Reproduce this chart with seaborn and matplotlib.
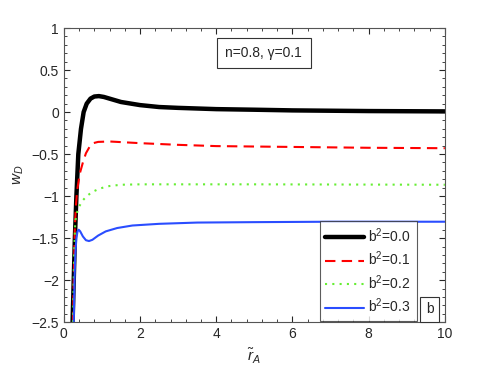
import numpy as np
import pandas as pd
import matplotlib
matplotlib.use('Agg')
import matplotlib.pyplot as plt
import seaborn as sns
from matplotlib.ticker import MultipleLocator

# curves
x_b0 = [0.23, 0.26, 0.29, 0.33, 0.38, 0.45, 0.52, 0.6, 0.7, 0.8, 0.92, 1.05, 1.2, 1.5, 2, 2.5, 3, 4, 5, 6, 8, 10]
y_b0 = [-2.5, -2.0, -1.5, -1.0, -0.5, -0.2, 0.0, 0.1, 0.16, 0.185, 0.19, 0.18, 0.16, 0.12, 0.083, 0.06, 0.05, 0.035, 0.028, 0.02, 0.012, 0.008]

x_b1 = [0.24, 0.26, 0.29, 0.32, 0.35, 0.42, 0.5, 0.58, 0.68, 0.77, 0.9, 1.2, 1.6, 2, 3, 4, 5, 6, 8, 10]
y_b1 = [-2.5, -2.0, -1.35, -1.1, -0.93, -0.73, -0.6, -0.49, -0.41, -0.37, -0.355, -0.35, -0.36, -0.37, -0.39, -0.405, -0.41, -0.415, -0.425, -0.43]

x_b2 = [0.24, 0.27, 0.3, 0.35, 0.42, 0.5, 0.6, 0.75, 0.94, 1.2, 1.5, 2, 3, 5, 10]
y_b2 = [-2.5, -1.7, -1.3, -1.19, -1.11, -1.05, -1.0, -0.95, -0.91, -0.88, -0.865, -0.86, -0.86, -0.86, -0.865]

x_b3 = [0.26, 0.28, 0.3, 0.33, 0.36, 0.39, 0.43, 0.5, 0.58, 0.66, 0.75, 0.9, 1.1, 1.4, 1.8, 2.5, 3.5, 5, 7, 10]
y_b3 = [-2.5, -2.0, -1.7, -1.5, -1.42, -1.40, -1.42, -1.48, -1.525, -1.535, -1.52, -1.47, -1.42, -1.38, -1.35, -1.33, -1.315, -1.31, -1.305, -1.305]

labels = ['b$^2$=0.0', 'b$^2$=0.1', 'b$^2$=0.2', 'b$^2$=0.3']

sns.set_style('ticks')
plt.rcParams['font.family'] = ['Liberation Sans', 'DejaVu Sans']
plt.rcParams['mathtext.fontset'] = 'custom'
plt.rcParams['mathtext.it'] = 'Liberation Sans:italic'
plt.rcParams['mathtext.rm'] = 'Liberation Sans'

fig, ax = plt.subplots(figsize=(4.91, 3.69), dpi=100)
fig.subplots_adjust(left=0.13, right=0.906, top=0.924, bottom=0.127)

series = [(x_b0, y_b0, 'black', '-', 3.2),
          (x_b1, y_b1, 'red', (0, (5, 3)), 1.5),
          (x_b2, y_b2, '#66ee33', (0, (1, 2.5)), 1.5),
          (x_b3, y_b3, '#2a4dff', '-', 1.5)]

for (xs, ys, c, ls, lw), lab in zip(series, labels):
    df = pd.DataFrame({'r': xs, 'w': ys})
    sns.lineplot(data=df, x='r', y='w', ax=ax, color=c, linestyle=ls, lw=lw,
                 label=lab, sort=False, estimator=None)

ax.set_xlim(0, 10)
ax.set_ylim(-2.5, 1)
ax.xaxis.set_major_locator(MultipleLocator(2))
ax.xaxis.set_minor_locator(MultipleLocator(0.4))
ax.yaxis.set_major_locator(MultipleLocator(0.5))
ax.yaxis.set_minor_locator(MultipleLocator(0.1))
ax.tick_params(which='both', direction='in', top=True, right=True, labelsize=10)
ax.tick_params(which='major', length=4)
ax.tick_params(which='minor', length=2)
ax.set_yticklabels([f'{v:g}'.replace('-', '\u2212') for v in ax.get_yticks()])
for s in ax.spines.values():
    s.set_color('#555555')
    s.set_linewidth(0.8)

ax.set_xlabel(r'$\tilde{r}_A$', fontsize=11)
ax.set_ylabel(r'$w_D$', fontsize=11)

ax.text(0.525, 0.915, 'n=0.8, \u03b3=0.1', transform=ax.transAxes, ha='center', va='center',
        fontsize=10, bbox=dict(boxstyle='square,pad=0.6', fc='white', ec='#333333', lw=0.8))
ax.text(0.96, 0.044, 'b', transform=ax.transAxes, ha='center', va='center',
        fontsize=10, bbox=dict(boxstyle='square,pad=0.4', fc='white', ec='#333333', lw=0.8))

leg = ax.legend(loc='lower left', bbox_to_anchor=(0.672, 0.004), fontsize=10, frameon=True,
                fancybox=False, edgecolor='#333333', handlelength=2.8, handletextpad=0.3,
                borderpad=0.4, labelspacing=0.35, borderaxespad=0)
leg.get_frame().set_linewidth(0.8)

fig.savefig('out.png', dpi=100)
